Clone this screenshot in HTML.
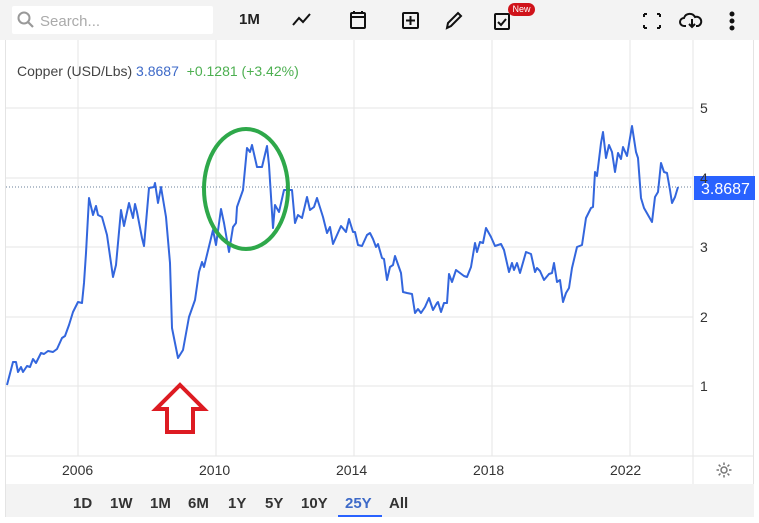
<!DOCTYPE html>
<html><head><meta charset="utf-8"><style>
body{margin:0;width:759px;height:523px;background:#fff;font-family:"Liberation Sans",sans-serif;overflow:hidden;position:relative}
.t{position:absolute;white-space:nowrap}
</style></head><body>
<div style="position:absolute;left:0;top:0;width:759px;height:40px;background:#f3f3f3"></div>
<div style="position:absolute;left:12px;top:6px;width:201px;height:28px;background:#fff;border-radius:2px"></div>
<svg style="position:absolute;left:17px;top:11px" width="18" height="18"><circle cx="7" cy="7" r="5.5" fill="none" stroke="#999" stroke-width="2"/><line x1="11" y1="11" x2="16" y2="16" stroke="#999" stroke-width="2.2"/></svg>
<div class="t" style="left:40px;top:13px;font-size:15px;color:#aaa">Search...</div>
<div class="t" style="left:239px;top:11px;font-size:15px;font-weight:bold;color:#222">1M</div>
<svg style="position:absolute;left:290px;top:8px" width="469" height="26" fill="none" stroke="#111" stroke-width="2">
<polyline points="3,17 9,10 13,14 20,6"/>
<rect x="61" y="5" width="14" height="15" rx="1"/><line x1="61" y1="9" x2="75" y2="9"/><line x1="64" y1="3" x2="64" y2="6"/><line x1="72" y1="3" x2="72" y2="6"/>
<rect x="113" y="5" width="15" height="15" rx="1"/><line x1="120.5" y1="8" x2="120.5" y2="17"/><line x1="116" y1="12.5" x2="125" y2="12.5"/>
<path d="M157 20 L158 15 L168 5 L171 8 L161 18 Z"/>
<rect x="205" y="6" width="14" height="15" rx="1"/><polyline points="208,14 211,17 216,11"/>
<path d="M354 6h3M354 6v3M370 6h-3M370 6v3M354 20h3M354 20v-3M370 20h-3M370 20v-3"/>
<path d="M396 18h-2a4 4 0 0 1 0-8a6 6 0 0 1 11-1a4.5 4.5 0 0 1 3 9h-2"/><line x1="402" y1="11" x2="402" y2="19"/><polyline points="399,16 402,19 405,16"/>
<circle cx="442" cy="6" r="1.5" fill="#111"/><circle cx="442" cy="13" r="1.5" fill="#111"/><circle cx="442" cy="20" r="1.5" fill="#111"/>
</svg>
<div class="t" style="left:508px;top:3px;width:27px;height:13px;background:#d0131a;border-radius:7px;color:#fff;font-size:9px;text-align:center;line-height:13px">New</div>
<div style="position:absolute;left:5px;top:40px;width:749px;height:477px;border:1px solid #e4e4e4;border-top:none;box-sizing:border-box"></div>
<svg style="position:absolute;left:0;top:0" width="759" height="523">
<g stroke="#e6e6e6" stroke-width="1">
<line x1="78" y1="40" x2="78" y2="456"/><line x1="216" y1="40" x2="216" y2="456"/><line x1="354" y1="40" x2="354" y2="456"/><line x1="492" y1="40" x2="492" y2="456"/><line x1="630" y1="40" x2="630" y2="456"/>
<line x1="6" y1="108" x2="693" y2="108"/><line x1="6" y1="178" x2="693" y2="178"/><line x1="6" y1="247" x2="693" y2="247"/><line x1="6" y1="317" x2="693" y2="317"/><line x1="6" y1="386" x2="693" y2="386"/>
<line x1="693" y1="40" x2="693" y2="484"/><line x1="6" y1="456" x2="754" y2="456"/>
</g>
<line x1="6" y1="187" x2="693" y2="187" stroke="#6a7f9a" stroke-width="1" stroke-dasharray="1,2"/>
<polyline fill="none" stroke="#3366dd" stroke-width="2" stroke-linejoin="round" points="7,385 13,362 16,362 18,372 21,367 23,372 27,366 30,367 33,359 36,363 41,353 44,354 48,351 53,352 57,349 62,338 65,336 69,325 73,312 78,302 82,303 84,283 86,253 89,198 93,215 96,206 98,215 102,217 107,235 113,277 116,265 121,210 124,226 129,203 133,218 135,204 137,212 142,238 144,246 149,188 154,187 155,183 158,203 161,187 166,217 170,263 172,328 178,358 183,350 189,317 195,300 199,272 202,262 204,267 213,230 216,245 221,209 224,223 229,252 233,227 236,223 237,207 243,190 247,148 250,152 252,145 257,167 262,167 267,146 269,165 273,228 275,205 279,212 284,190 292,190 295,223 298,215 302,218 307,197 310,210 314,207 317,198 323,217 327,233 330,227 333,244 341,226 346,232 349,219 353,232 355,232 358,245 362,246 367,235 370,233 373,239 376,247 378,244 382,258 384,259 387,280 390,267 393,265 395,256 401,273 403,292 407,293 412,294 415,313 418,309 421,313 425,307 429,298 433,310 437,303 438,302 441,312 444,303 447,303 449,274 452,282 456,270 460,273 464,276 467,277 471,267 475,243 477,252 480,242 483,243 486,228 491,237 495,246 501,244 504,250 509,272 512,263 514,270 517,263 520,273 526,252 531,254 535,272 537,268 540,271 544,280 549,274 552,273 554,263 557,282 560,280 563,302 566,293 569,288 572,268 577,247 582,245 586,218 591,208 593,207 595,172 597,176 601,143 603,132 606,158 609,145 612,152 615,172 618,153 621,159 623,147 627,156 632,126 636,152 638,158 641,198 644,208 648,215 652,222 655,197 658,192 661,163 664,172 667,173 670,190 672,203 675,197 678,187"/>
<ellipse cx="246" cy="189" rx="42" ry="60" fill="none" stroke="#2ea84a" stroke-width="4"/>
<polygon points="180,385 204,409 193,409 193,432 167,432 167,409 156,409" fill="none" stroke="#dd1b22" stroke-width="4" stroke-linejoin="miter"/>
<rect x="694" y="176" width="61" height="24" fill="#2962ff"/>
<text x="701" y="194" font-size="16" fill="#fff" font-family="Liberation Sans">3.8687</text>
<g font-size="14" fill="#333" font-family="Liberation Sans"><text x="700" y="113">5</text><text x="700" y="183">4</text><text x="700" y="252">3</text><text x="700" y="322">2</text><text x="700" y="391">1</text>
<text x="62" y="475">2006</text><text x="199" y="475">2010</text><text x="336" y="475">2014</text><text x="473" y="475">2018</text><text x="610" y="475">2022</text></g>
<g transform="translate(724,470)" fill="none" stroke="#777" stroke-width="1.5"><circle r="3"/><path d="M0-7.5v2.5M0 5v2.5M-7.5 0h2.5M5 0h2.5M-5.3-5.3l1.8 1.8M3.5 3.5l1.8 1.8M-5.3 5.3l1.8-1.8M3.5-3.5l1.8-1.8"/></g>
</svg>
<div class="t" style="left:17px;top:63px;font-size:14px;color:#444">Copper (USD/Lbs) <span style="color:#3e6ac8">3.8687</span> &nbsp;<span style="color:#4caf50">+0.1281 (+3.42%)</span></div>
<div style="position:absolute;left:6px;top:484px;width:748px;height:33px;background:#f3f3f3"></div>
<div class="t" style="left:73px;top:495px;font-size:15px;font-weight:bold;color:#333">1D</div>
<div class="t" style="left:110px;top:495px;font-size:15px;font-weight:bold;color:#333">1W</div>
<div class="t" style="left:150px;top:495px;font-size:15px;font-weight:bold;color:#333">1M</div>
<div class="t" style="left:188px;top:495px;font-size:15px;font-weight:bold;color:#333">6M</div>
<div class="t" style="left:228px;top:495px;font-size:15px;font-weight:bold;color:#333">1Y</div>
<div class="t" style="left:265px;top:495px;font-size:15px;font-weight:bold;color:#333">5Y</div>
<div class="t" style="left:301px;top:495px;font-size:15px;font-weight:bold;color:#333">10Y</div>
<div class="t" style="left:345px;top:495px;font-size:15px;font-weight:bold;color:#3e6ac8">25Y</div>
<div style="position:absolute;left:338px;top:515px;width:44px;height:2px;background:#2962ff"></div>
<div class="t" style="left:389px;top:495px;font-size:15px;font-weight:bold;color:#333">All</div>
</body></html>
